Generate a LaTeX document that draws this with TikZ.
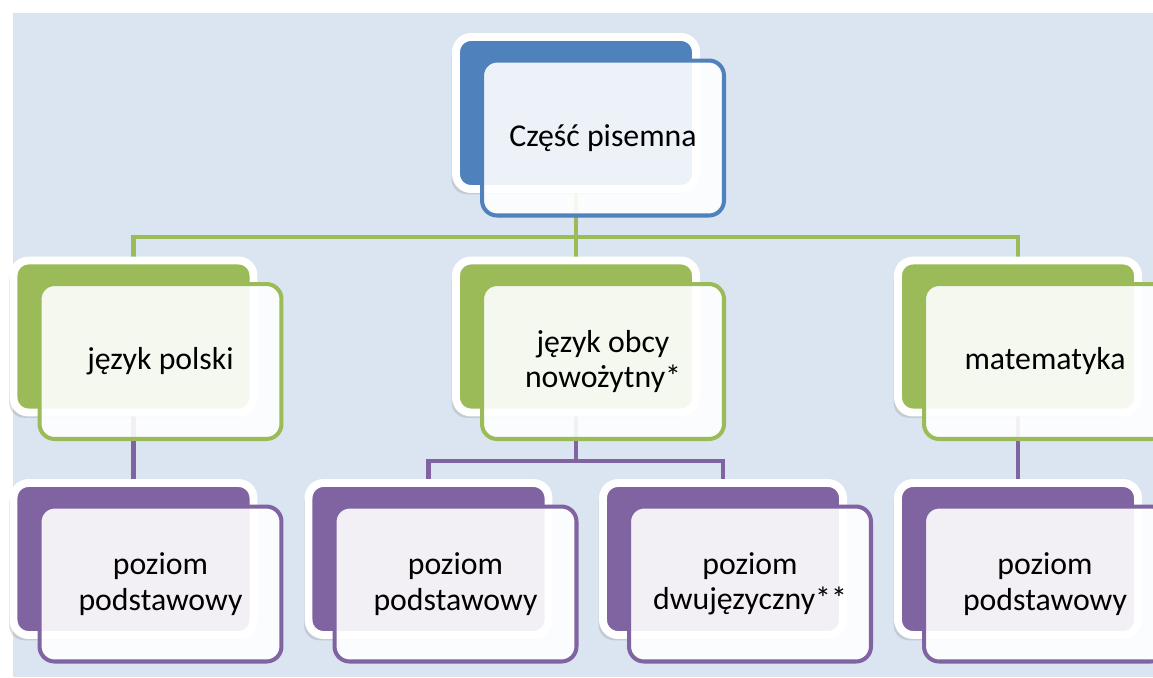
\documentclass[tikz,border=0pt]{standalone}
\usepackage{fontspec}
\setmainfont{Carlito}
\newcommand*{\boxfont}{\fontsize{18.1}{20.2}\selectfont}
\definecolor{B}{RGB}{79,129,189}
\definecolor{G}{RGB}{155,187,89}
\definecolor{P}{RGB}{128,100,162}
\definecolor{bg}{RGB}{219,229,241}
\usetikzlibrary{shadows}
\pgfdeclarelayer{bglayer}
\pgfdeclarelayer{lines}
\pgfsetlayers{bglayer,lines,main}
\tikzstyle{base}=[inner sep=0pt, outer sep=0pt, x=0.02cm, y=-0.02cm]
\tikzstyle{backbox}=[rectangle, rounded corners=0.3cm, draw=white, line width=4.5pt,
    minimum width=4.8cm, minimum height=3.04cm,
    drop shadow={shadow xshift=-2.5pt, shadow yshift=-3pt, opacity=.25}]
\tikzstyle{frontbox}=[rectangle, rounded corners=0.3cm, fill=white, fill opacity=.9,
    text opacity=1, line width=2.3pt, minimum width=4.84cm, minimum height=3.1cm,
    align=center, font=\boxfont]
\tikzstyle{link}=[line width=2.8pt]

\begin{document}
\begin{tikzpicture}[base]
    \useasboundingbox (0,0) rectangle (1153,677);
    \begin{pgfonlayer}{bglayer}
        \fill [bg] (13,13) rectangle (1153,677);
    \end{pgfonlayer}
    \clip (0,0) rectangle (1153,677);
    % back boxes
    \node [backbox, fill=B] (top) at (576,113) {};
    \node [backbox, fill=G] (pol) at (133.5,336.5) {};
    \node [backbox, fill=G] (obcy) at (576,336.5) {};
    \node [backbox, fill=G] (mat) at (1018,336.5) {};
    \node [backbox, fill=P] (pol1) at (133.5,559) {};
    \node [backbox, fill=P] (obcy1) at (428.5,559) {};
    \node [backbox, fill=P] (obcy2) at (723,559) {};
    \node [backbox, fill=P] (mat1) at (1018,559) {};
    % front boxes with the texts
    \node [frontbox, draw=B] (topF) at ([shift={(27,25)}]top.center) {Część pisemna};
    \node [frontbox, draw=G] (polF) at ([shift={(27,25)}]pol.center) {język polski};
    \node [frontbox, draw=G] (obcyF) at ([shift={(27,25)}]obcy.center) {język obcy\\nowożytny*};
    \node [frontbox, draw=G] (matF) at ([shift={(27,25)}]mat.center) {matematyka};
    \node [frontbox, draw=P] (pol1F) at ([shift={(27,25)}]pol1.center) {poziom\\podstawowy};
    \node [frontbox, draw=P] (obcy1F) at ([shift={(27,25)}]obcy1.center) {poziom\\podstawowy};
    \node [frontbox, draw=P] (obcy2F) at ([shift={(27,25)}]obcy2.center) {poziom\\dwujęzyczny**};
    \node [frontbox, draw=P] (mat1F) at ([shift={(27,25)}]mat1.center) {poziom\\podstawowy};
    % connectors
    \begin{pgfonlayer}{lines}
        \coordinate (gbus) at (576,237);
        \coordinate (pbus) at (576,461);
        \draw [link, G] (top.south) -- (gbus) -| (pol.north);
        \draw [link, G] (gbus) -| (mat.north);
        \draw [link, G] (gbus) -- (obcy.north);
        \draw [link, P] (pol.south) -- (pol1.north);
        \draw [link, P] (mat.south) -- (mat1.north);
        \draw [link, P] (obcy.south) -- (pbus) -| (obcy1.north);
        \draw [link, P] (pbus) -| (obcy2.north);
    \end{pgfonlayer}
\end{tikzpicture}
\end{document}
